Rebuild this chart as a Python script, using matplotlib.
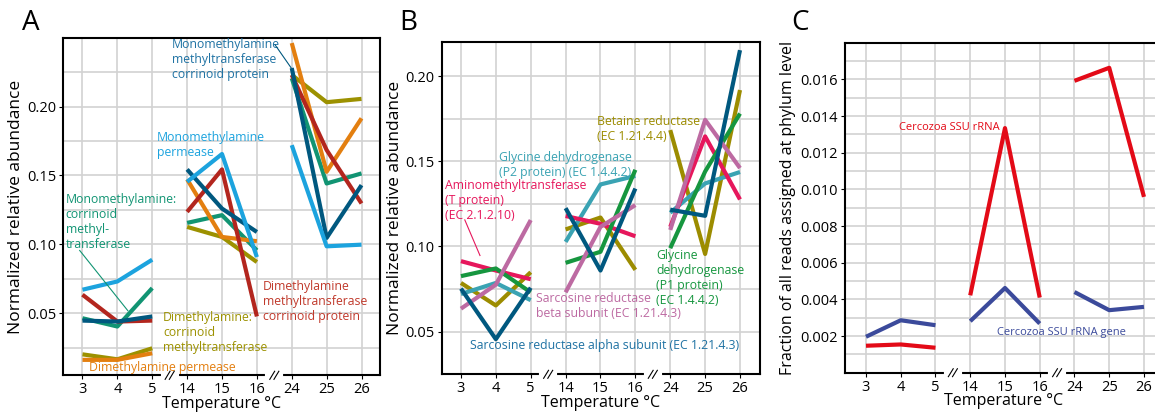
import numpy as np
import matplotlib
matplotlib.use("Agg")
import matplotlib.pyplot as plt

plt.rcParams['font.family'] = ['Open Sans', 'DejaVu Sans']

temps = ['3', '4', '5', '14', '15', '16', '24', '25', '26']

# panel A: methylamine genes
a_mma_mt = [0.0447, 0.0440, 0.0477, 0.1544, 0.1260, 0.1090, 0.2280, 0.1047, 0.1430]
a_mma_perm = [0.0671, 0.0731, 0.0889, 0.1454, 0.1656, 0.0908, 0.1720, 0.0986, 0.0998]
a_mma_cmt = [0.0464, 0.0404, 0.0683, 0.1156, 0.1212, 0.0957, 0.2206, 0.1442, 0.1515]
a_dma_cmt = [0.0202, 0.0166, 0.0246, 0.1127, 0.1054, 0.0872, 0.2230, 0.2032, 0.2056]
a_dma_perm = [0.0162, 0.0162, 0.0210, 0.1472, 0.1054, 0.1023, 0.2461, 0.1527, 0.1915]
a_dma_mt = [0.0635, 0.0440, 0.0447, 0.1236, 0.1544, 0.0477, 0.2230, 0.1685, 0.1297]

# panel B: glycine / sarcosine / betaine genes
b_amt = [0.0914, 0.0859, 0.0808, 0.1179, 0.1133, 0.1060, 0.1115, 0.1646, 0.1276]
b_gdh_p1 = [0.0826, 0.0871, 0.0731, 0.0904, 0.0969, 0.1450, 0.0990, 0.1440, 0.1780]
b_betaine = [0.0786, 0.0654, 0.0849, 0.1100, 0.1170, 0.0863, 0.1683, 0.0956, 0.1918]
b_gdh_p2 = [0.0721, 0.0786, 0.0685, 0.1027, 0.1364, 0.1414, 0.1198, 0.1370, 0.1437]
b_sar_beta = [0.0635, 0.0776, 0.1155, 0.0731, 0.1115, 0.1243, 0.1097, 0.1743, 0.1460]
b_sar_alpha = [0.0753, 0.0456, 0.0758, 0.1225, 0.0859, 0.1340, 0.1216, 0.1180, 0.2152]

# panel C: Cercozoa
c_rrna = [0.00147, 0.00154, 0.00136, 0.00422, 0.01334, 0.00410, 0.01592, 0.01663, 0.00959]
c_gene = [0.00196, 0.00286, 0.00259, 0.00281, 0.00462, 0.00268, 0.00440, 0.00341, 0.00359]

LW = 3.0
x = np.arange(len(temps))


def draw_series(ax, vals, color):
    # three separate temperature groups, not joined
    for g in range(3):
        sl = slice(3 * g, 3 * g + 3)
        ax.plot(x[sl], vals[sl], color=color, lw=LW, solid_capstyle='butt', zorder=3)


def setup(ax, ylim, yticks, yfmt, minor):
    ax.set_xlim(-0.56, 8.53)
    ax.set_ylim(*ylim)
    ax.set_xticks(x)
    ax.set_xticklabels(temps)
    ax.set_yticks(yticks)
    ax.set_yticklabels([yfmt % v for v in yticks])
    ax.set_yticks(minor, minor=True)
    ax.grid(True, which='both', color='#d2d2d2', lw=1.2, zorder=0)
    ax.tick_params(which='major', length=3, width=0.8, labelsize=10.5, pad=2)
    ax.tick_params(which='minor', length=0)
    for s in ax.spines.values():
        s.set_linewidth(1.5)
    ax.set_xlabel('Temperature °C', fontsize=11.5, labelpad=-1)
    # axis breaks
    tr = ax.get_xaxis_transform()
    for b in (2.5, 5.5):
        ax.plot([b - 0.2, b + 0.2], [0, 0], color='white', lw=3, transform=tr, clip_on=False, zorder=5)
        for d in (-0.06, 0.06):
            ax.plot([b + d - 0.07, b + d + 0.07], [-0.012, 0.012], color='black', lw=0.8,
                    transform=tr, clip_on=False, zorder=6)


fig = plt.figure(figsize=(11.55, 4.12), dpi=100)

# ---------------- A
axA = fig.add_axes([0.0545, 0.0891, 0.2745, 0.8194])
cA = {'mma_mt': '#00587f', 'mma_perm': '#1ca3de', 'mma_cmt': '#119473',
      'dma_cmt': '#9c9100', 'dma_perm': '#e37f10', 'dma_mt': '#b3261e'}
draw_series(axA, a_mma_cmt, cA['mma_cmt'])
draw_series(axA, a_dma_cmt, cA['dma_cmt'])
draw_series(axA, a_dma_perm, cA['dma_perm'])
draw_series(axA, a_dma_mt, cA['dma_mt'])
draw_series(axA, a_mma_mt, cA['mma_mt'])
draw_series(axA, a_mma_perm, cA['mma_perm'])
setup(axA, (0.005, 0.25), [0.05, 0.10, 0.15, 0.20], '%.2f', np.arange(0.025, 0.25, 0.025))
axA.set_ylabel('Normalized relative abundance', fontsize=12.5, labelpad=2)

fs = 8.8
axA.text(2.56, 0.2495, 'Monomethylamine\nmethyltransferase\ncorrinoid protein', color='#1f72a3',
         fontsize=fs, va='top', linespacing=1.2, zorder=4)
axA.plot([5.52, 5.98], [0.2449, 0.2282], color='#00587f', lw=0.8, zorder=4)
axA.text(2.13, 0.1822, 'Monomethylamine\npermease', color='#1ca3de', fontsize=fs, va='top',
         linespacing=1.2, zorder=4)
axA.text(-0.48, 0.137, 'Monomethylamine:\ncorrinoid\nmethyl-\ntransferase', color='#119473',
         fontsize=fs, va='top', linespacing=1.2, zorder=4)
axA.plot([-0.08, 1.30], [0.0956, 0.0519], color='#119473', lw=0.8, zorder=4)
axA.text(2.31, 0.0513, 'Dimethylamine:\ncorrinoid\nmethyltransferase', color='#9c9100',
         fontsize=fs, va='top', linespacing=1.2, zorder=4)
axA.text(0.18, 0.0105, 'Dimethylamine permease', color='#e37f10', fontsize=fs, va='center', zorder=4)
axA.text(5.17, 0.0739, 'Dimethylamine\nmethyltransferase\ncorrinoid protein', color='#c0392b',
         fontsize=fs, va='top', linespacing=1.2, zorder=4)

# ---------------- B
axB = fig.add_axes([0.3824, 0.0915, 0.2756, 0.8058])
draw_series(axB, b_betaine, '#9c8c00')
draw_series(axB, b_gdh_p2, '#3aa3b3')
draw_series(axB, b_amt, '#e6175c')
draw_series(axB, b_gdh_p1, '#16963f')
draw_series(axB, b_sar_beta, '#bd6aa2')
draw_series(axB, b_sar_alpha, '#00587f')
setup(axB, (0.0377, 0.2198), [0.05, 0.10, 0.15, 0.20], '%.2f', np.arange(0.025, 0.22, 0.025))
axB.set_xlim(-0.553, 8.573)
axB.set_ylabel('Normalized relative abundance', fontsize=12.5, labelpad=2)

axB.text(3.90, 0.1771, 'Betaine reductase\n(EC 1.21.4.4)', color='#9c8c00', fontsize=fs, va='top',
         linespacing=1.2, zorder=4)
axB.text(1.09, 0.1562, 'Glycine dehydrogenase\n(P2 protein) (EC 1.4.4.2)', color='#3aa3b3',
         fontsize=fs, va='top', linespacing=1.2, zorder=4)
axB.text(-0.46, 0.1397, 'Aminomethyltransferase\n(T protein)\n(EC 2.1.2.10)', color='#e6175c',
         fontsize=fs, va='top', linespacing=1.2, zorder=4)
axB.plot([0.11, 0.545], [0.1156, 0.0947], color='#e6175c', lw=0.8, zorder=4)
axB.text(5.59, 0.0985, 'Glycine\ndehydrogenase\n(P1 protein)\n(EC 1.4.4.2)', color='#16963f',
         fontsize=fs, va='top', linespacing=1.2, zorder=4)
axB.text(2.15, 0.0732, 'Sarcosine reductase\nbeta subunit (EC 1.21.4.3)', color='#bd6aa2',
         fontsize=fs, va='top', linespacing=1.2, zorder=4)
axB.text(0.26, 0.042, 'Sarcosine reductase alpha subunit (EC 1.21.4.3)', color='#1f72a3',
         fontsize=fs, va='center', zorder=4)

# ---------------- C
axC = fig.add_axes([0.7316, 0.0954, 0.2748, 0.801])
draw_series(axC, c_rrna, '#e30a17')
draw_series(axC, c_gene, '#3b4a9b')
setup(axC, (0.0, 0.018), [0.002, 0.004, 0.006, 0.008, 0.010, 0.012, 0.014, 0.016], '%.3f',
      np.arange(0.001, 0.018, 0.001))
axC.set_xlim(-0.604, 8.53)
axC.set_ylabel('Fraction of all reads assigned at phylum level', fontsize=11.5, labelpad=3)
axC.text(3.86, 0.01335, 'Cercozoa SSU rRNA', color='#e30a17', fontsize=8, ha='right', va='center', zorder=4)
axC.text(3.77, 0.00217, 'Cercozoa SSU rRNA gene', color='#3b4a9b', fontsize=8, va='center', zorder=4)

# panel letters
fig.text(0.019, 0.945, 'A', fontsize=20, va='center')
fig.text(0.346, 0.945, 'B', fontsize=20, va='center')
fig.text(0.685, 0.945, 'C', fontsize=20, va='center')

fig.savefig('out.png', dpi=100)
